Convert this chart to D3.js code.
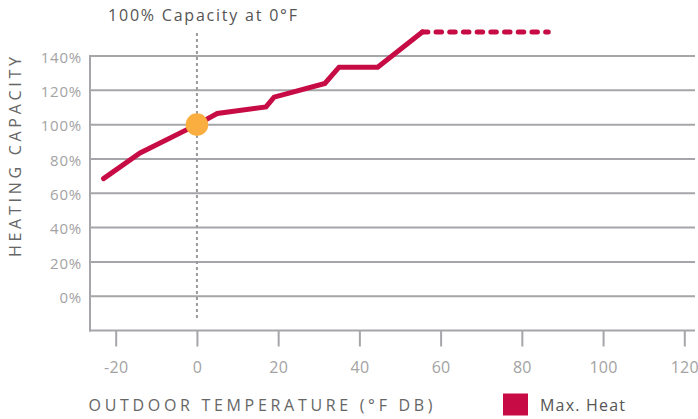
<!DOCTYPE html>
<html>
<head>
<meta charset="utf-8">
<script src="https://cdn.jsdelivr.net/npm/d3@7/dist/d3.min.js"></script>
<style>
  html, body { margin: 0; padding: 0; background: #fff; }
  svg { display: block; font-family: "Open Sans", "Lato", sans-serif; }
</style>
</head>
<body>
<svg id="chart" width="698" height="419"></svg>
<script>
// ---- data ----
const temps      = [-23, -14, 0, 5, 17, 19, 31.5, 35, 44.5, 55.5];
const capacity   = [68.5, 83.5, 100, 106.5, 110.3, 116, 124, 133.5, 133.5, 154];
const extTemps   = [55.5, 86.5];
const extCap     = [154, 154];
const xTicks     = [-20, 0, 20, 40, 60, 80, 100, 120];
const yTicks     = [0, 20, 40, 60, 80, 100, 120, 140];
const refPoint   = [0, 100];
const titleText  = "100% Capacity at 0°F";
const xTitle     = "OUTDOOR TEMPERATURE (°F DB)";
const yTitle     = "HEATING CAPACITY";
const legendText = "Max. Heat";

// ---- layout ----
const svg = d3.select("#chart");
const pLeft = 90, pRight = 695, pTop = 56, pBottom = 330.5;
const x = d3.scaleLinear().domain([-20, 120]).range([115.7, 684.3]);
const y = d3.scaleLinear().domain([-20, 140]).range([pBottom, pTop]);

const gridColor = "#a6a6aa";
const lineColor = "#c70c45";
const dotColor  = "#fbae40";

// gridlines
svg.append("g").selectAll("line").data(yTicks).join("line")
  .attr("x1", pLeft).attr("x2", pRight)
  .attr("y1", d => y(d)).attr("y2", d => y(d))
  .attr("stroke", gridColor).attr("stroke-width", 2);

// y tick labels
svg.append("g").selectAll("text").data(yTicks).join("text")
  .attr("x", 82).attr("y", d => y(d)).attr("dy", "0.45em")
  .attr("text-anchor", "end")
  .attr("fill", "#a3a3a3").attr("font-size", 15).attr("letter-spacing", 0.8)
  .text(d => d + "%");

// left axis line
svg.append("line").attr("x1", pLeft).attr("x2", pLeft)
  .attr("y1", y(140) - 1).attr("y2", pBottom + 1)
  .attr("stroke", gridColor).attr("stroke-width", 2);

// bottom axis using d3.axisBottom
const xAxis = d3.axisBottom(x).tickValues(xTicks).tickSize(16).tickPadding(9)
  .tickFormat(d => d);
const gx = svg.append("g").attr("transform", `translate(0,${pBottom})`).call(xAxis);
gx.select(".domain").remove();
gx.selectAll(".tick line").attr("stroke", gridColor).attr("stroke-width", 2);
gx.selectAll(".tick text").attr("fill", "#a3a3a3").attr("font-size", 16)
  .attr("letter-spacing", 0.3)
  .attr("y", 42.8).attr("dy", 0)
  .attr("font-family", "'Open Sans', 'Lato', sans-serif");
svg.append("line").attr("x1", pLeft - 1).attr("x2", pRight)
  .attr("y1", pBottom).attr("y2", pBottom)
  .attr("stroke", gridColor).attr("stroke-width", 2);

// vertical dotted reference line
svg.append("line")
  .attr("x1", x(refPoint[0])).attr("x2", x(refPoint[0]))
  .attr("y1", 33).attr("y2", 318)
  .attr("stroke", "#9a9a9a").attr("stroke-width", 2)
  .attr("stroke-dasharray", "3,3");

// title
svg.append("text").attr("x", 108).attr("y", 20.7)
  .attr("fill", "#555").attr("font-size", 16)
  .attr("textLength", 189).attr("lengthAdjust", "spacing")
  .text(titleText);

// main line
const line = d3.line().x(d => x(d[0])).y(d => y(d[1]));
svg.append("path")
  .datum(temps.map((t, i) => [t, capacity[i]]))
  .attr("d", line).attr("fill", "none")
  .attr("stroke", lineColor).attr("stroke-width", 5)
  .attr("stroke-linejoin", "miter").attr("stroke-linecap", "round");

// dashed extension
svg.append("path")
  .datum(extTemps.map((t, i) => [t, extCap[i]]))
  .attr("d", line).attr("fill", "none")
  .attr("stroke", lineColor).attr("stroke-width", 5)
  .attr("stroke-linecap", "round")
  .attr("stroke-dasharray", "5.5,8.2");

// reference dot
svg.append("circle").attr("cx", x(refPoint[0])).attr("cy", y(refPoint[1]))
  .attr("r", 11.3).attr("fill", dotColor);

// axis titles
svg.append("text").attr("x", 88.5).attr("y", 410.7)
  .attr("fill", "#666").attr("font-size", 16)
  .attr("textLength", 344).attr("lengthAdjust", "spacing")
  .text(xTitle);

svg.append("text")
  .attr("transform", `translate(20.7,257) rotate(-90)`)
  .attr("x", 0).attr("y", 0)
  .attr("fill", "#666").attr("font-size", 16)
  .attr("textLength", 200).attr("lengthAdjust", "spacing")
  .text(yTitle);

// legend
svg.append("rect").attr("x", 503).attr("y", 393.5).attr("width", 25).attr("height", 22)
  .attr("fill", lineColor);
svg.append("text").attr("x", 540).attr("y", 410.5)
  .attr("fill", "#555").attr("font-size", 16)
  .attr("textLength", 85).attr("lengthAdjust", "spacing")
  .text(legendText);
</script>
</body>
</html>
